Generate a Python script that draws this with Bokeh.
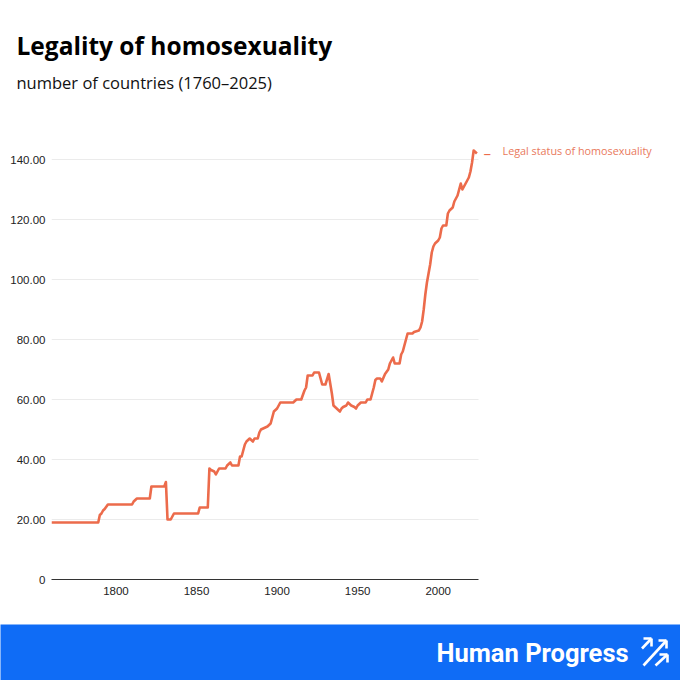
from bokeh.plotting import figure
from bokeh.models import Range1d, Label, FixedTicker, Title
from bokeh.layouts import column
from bokeh.embed import file_html
from bokeh.resources import INLINE
from bokeh.core.properties import value

# ---------------- data ----------------
years = [1760, 1789, 1790, 1791, 1792, 1793, 1795, 1810, 1811, 1813, 1821, 1822,
         1830, 1831, 1832, 1834, 1836, 1851, 1852, 1857, 1858, 1859, 1861, 1862,
         1864, 1868, 1869, 1870, 1871, 1872, 1876, 1877, 1878, 1879, 1880, 1881,
         1883, 1885, 1886, 1888, 1889, 1890, 1892, 1894, 1896, 1898, 1900, 1902,
         1910, 1912, 1915, 1917, 1918, 1919, 1922, 1923, 1926, 1928, 1930, 1932,
         1934, 1935, 1937, 1939, 1940, 1941, 1943, 1944, 1946, 1948, 1949, 1950,
         1952, 1955, 1956, 1958, 1959, 1960, 1961, 1962, 1964, 1965, 1967, 1969,
         1970, 1971, 1972, 1973, 1975, 1976, 1977, 1978, 1979, 1980, 1981, 1984,
         1985, 1988, 1989, 1990, 1991, 1992, 1993, 1994, 1995, 1996, 1997, 1998,
         2000, 2001, 2002, 2003, 2005, 2006, 2007, 2009, 2010, 2011, 2012, 2014,
         2015, 2017, 2018, 2019, 2020, 2021, 2022, 2023, 2024]
countries = [19, 19, 21.5, 22, 23, 23.5, 25, 25, 26, 27, 27, 31,
             31, 32.5, 20, 20, 22, 22, 24, 24, 37, 36.5, 36, 35,
             37, 37, 38, 38.5, 39, 38, 38, 41, 41, 43, 45, 46,
             47, 46, 47, 47, 49, 50, 50.5, 51, 52, 56, 57, 59,
             59, 60, 60, 63, 64, 68, 68, 69, 69, 65, 65, 68.5,
             62, 58, 57, 56, 57, 57.5, 58, 59, 58, 57.5, 57, 58,
             59, 59, 60, 60, 62, 64, 66.5, 67, 67, 66, 68.5, 70,
             72, 73, 74, 72, 72, 72, 75, 76, 78, 80, 82, 82,
             82.5, 83, 84, 86, 90, 95, 99, 102, 105, 109, 111, 112,
             113, 114, 117, 118, 118, 122, 123, 124, 126, 127, 128, 132,
             130, 132, 133, 134, 136, 139, 143, 142.5, 142]

y_ticks = [0, 20, 40, 60, 80, 100, 120, 140]
y_tick_labels = ["0", "20.00", "40.00", "60.00", "80.00", "100.00", "120.00", "140.00"]
x_ticks = [1800, 1850, 1900, 1950, 2000]
x_start, x_end = 1760, 2025

TITLE = "Legality of homosexuality"
SUBTITLE = "number of countries (1760\u20132025)"
SERIES = "Legal status of homosexuality"
BRAND = "Human Progress"

LINE = "#ec6b4b"
LABEL_C = "#e9795c"
BLUE = "#0f6cf6"

# logo strokes (footer pixel coordinates)
logo_x0 = [641.5, 643.0, 651.0, 643.0, 658.0, 666.0, 655.0, 659.0, 667.0]
logo_y0 = [648.0, 638.0, 638.0, 665.0, 640.0, 640.0, 665.0, 654.0, 654.0]
logo_x1 = [651.0, 651.0, 651.0, 666.0, 666.0, 666.0, 667.0, 667.0, 667.0]
logo_y1 = [638.0, 638.0, 646.0, 640.0, 640.0, 648.0, 654.0, 654.0, 662.0]

# ---------------- main chart ----------------
FRAME_TOP = 99
px_per_year = 427.0 / (x_end - x_start)
x_far = x_start + 629.0 / px_per_year
y_far = (579.0 - FRAME_TOP) / 3.0

p = figure(width=680, height=624, x_range=Range1d(x_start, x_far), y_range=Range1d(0, y_far),
           output_backend="svg", toolbar_location=None, title=None,
           min_border_left=51, min_border_right=0, min_border_top=FRAME_TOP, min_border_bottom=45)
p.outline_line_color = None
p.background_fill_color = "white"
p.border_fill_color = "white"

p.line(years, countries, line_color=LINE, line_width=2.6, line_join="round")

p.xgrid.grid_line_color = None
p.ygrid.ticker = FixedTicker(ticks=y_ticks[1:])
p.ygrid.grid_line_color = "#ebebeb"
p.ygrid.grid_line_width = 1
try:
    p.ygrid.cross_bounds = (x_start, x_end)
except Exception:
    p.ygrid.grid_line_color = None
    p.segment(x0=[x_start] * 7, x1=[x_end] * 7, y0=y_ticks[1:], y1=y_ticks[1:],
              line_color="#ebebeb", line_width=1, level="underlay")

p.yaxis.ticker = FixedTicker(ticks=y_ticks)
p.yaxis.major_label_overrides = {t: s for t, s in zip(y_ticks, y_tick_labels)}
p.yaxis.axis_line_color = None
p.yaxis.major_tick_line_color = None
p.yaxis.minor_tick_line_color = None
p.yaxis.major_tick_out = 0
p.yaxis.major_tick_in = 0
p.yaxis.major_label_standoff = 6
p.yaxis.major_label_text_font = "Liberation Sans"
p.yaxis.major_label_text_font_size = "11.5px"
p.yaxis.major_label_text_color = "#222222"

p.xaxis.ticker = FixedTicker(ticks=x_ticks)
p.xaxis.bounds = (x_start, x_end)
p.xaxis.axis_line_color = "#333333"
p.xaxis.axis_line_width = 1
p.xaxis.major_tick_line_color = None
p.xaxis.minor_tick_line_color = None
p.xaxis.major_tick_out = 0
p.xaxis.major_tick_in = 0
p.xaxis.major_label_standoff = 7
p.xaxis.major_label_text_font = "Liberation Sans"
p.xaxis.major_label_text_font_size = "11.5px"
p.xaxis.major_label_text_color = "#222222"

# titles in the panel above the frame (first added = closest to frame)
p.add_layout(Title(text=SUBTITLE, align="left", offset=-35, standoff=11,
                   text_font="Open Sans", text_font_style="normal", text_font_size="16.5px",
                   text_color="#111111", text_baseline="alphabetic"), "above")
p.add_layout(Title(text=TITLE, align="left", offset=-35, standoff=4,
                   text_font="Open Sans", text_font_style="bold", text_font_size="24.5px",
                   text_color="#000000", text_baseline="alphabetic"), "above")

# series label at the line's end
p.add_layout(Label(x=x_start + (483 - 51) / px_per_year, y=142.2, text="\u2013",
                   text_font="Open Sans", text_font_size="15px",
                   text_color=LINE, text_baseline="middle"))
p.add_layout(Label(x=x_start + (502 - 51) / px_per_year, y=143, text=SERIES,
                   text_font="Open Sans", text_font_size="10.8px",
                   text_color=LABEL_C, text_baseline="middle"))

# ---------------- footer band ----------------
f = figure(width=680, height=56, x_range=Range1d(0, 680), y_range=Range1d(680, 624),
           output_backend="svg", toolbar_location=None, title=None,
           min_border_left=0, min_border_right=0, min_border_top=0, min_border_bottom=0,
           x_axis_location=None, y_axis_location=None,
           background_fill_color=BLUE, border_fill_color=BLUE)
f.outline_line_color = None
f.grid.visible = False
f.text(x=[436], y=[652], text=[BRAND], text_font=value("Roboto"), text_font_style="bold",
       text_font_size="25.5px", text_color="white", text_baseline="alphabetic")
f.segment(x0=logo_x0, y0=logo_y0, x1=logo_x1, y1=logo_y1, line_color="white",
          line_width=2.6, line_cap="butt")

layout = column(p, column(f, spacing=0), spacing=0)
open("out.html", "w").write(file_html(layout, INLINE))
